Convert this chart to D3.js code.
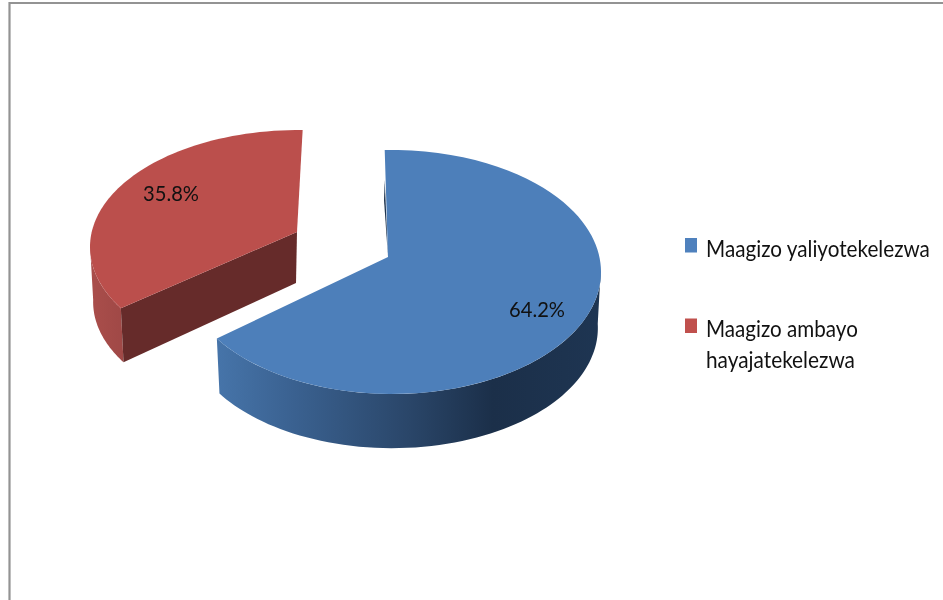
<!DOCTYPE html>
<html><head><meta charset="utf-8">
<script src="https://cdn.jsdelivr.net/npm/d3@7"></script>
<style>html,body{margin:0;padding:0;background:#fff}svg{display:block;filter:blur(0.35px)}text{font-family:Lato,"Open Sans",sans-serif;fill:#111}</style>
</head><body>
<svg id="c" width="943" height="600"></svg>
<script>
const categories = ["Maagizo yaliyotekelezwa", "Maagizo ambayo hayajatekelezwa"];
const values = [64.2, 35.8];
const valueLabels = ["64.2%", "35.8%"];
const legendLines = [["Maagizo yaliyotekelezwa"], ["Maagizo ambayo", "hayajatekelezwa"]];
const colors = ["#4d7fba", "#bb4f4c"];
const legendColors = ["#4f81bd", "#c0504d"];

const deg = Math.PI / 180;
// Projection of each exploded slice's flat disc onto the page
const geom = [
  {cx:392, cy:272, rx:209, ry:122, rot:-2, k:8, apex:[388,257], apexB:[388,310], depth:56, label:[537,317], face:"url(#wallBlue)", legendY:252, lineYs:[257], lineW:[224]},
  {cx:299, cy:247, rx:209, ry:117, rot:1, k:6.5, apex:[297,232], apexB:[296,283], depth:55, label:[171,201], face:"url(#wallRed)", legendY:332.5, lineYs:[337,368], lineW:[152,149]}
];
const shrink = 0.985;

const svg = d3.select("#c");
const defs = svg.append("defs");
function grad(id, x1, x2, stops){
  const g = defs.append("linearGradient").attr("id",id).attr("gradientUnits","userSpaceOnUse")
    .attr("x1",x1).attr("x2",x2).attr("y1",0).attr("y2",0);
  stops.forEach(s=>g.append("stop").attr("offset",s[0]).attr("stop-color",s[1]));
}
grad("wallBlue",218,600,[[0,"#4674a9"],[0.2,"#3a6190"],[0.5,"#2a4669"],[0.72,"#1b2f49"],[1,"#1e3552"]]);
grad("wallRed",90,125,[[0,"#aa4e4b"],[1,"#9f4846"]]);

// frame
svg.append("path").attr("d","M9.5,600V3H943").attr("fill","none").attr("stroke","#939393").attr("stroke-width",2.2);

const pie = d3.pie().sort(null).value(d=>d)(values);

function pt(g,a,lower){
  const w = a/deg + g.rot + g.k*Math.sin(2*a);
  const s = lower ? shrink : 1;
  const x = d3.scaleLinear().domain([-1,1]).range([g.cx-g.rx*s, g.cx+g.rx*s]);
  const y = d3.scaleLinear().domain([-1,1]).range([g.cy-g.ry*s, g.cy+g.ry*s]);
  return [x(Math.sin(w*deg)), y(-Math.cos(w*deg)) + (lower?g.depth:0)];
}
const line = d3.line();
function samples(a0,a1){ const n=80; return d3.range(n+1).map(i=>a0+(a1-a0)*i/n); }
// Text drawn tall and narrow: squeeze horizontally to the wanted width
function narrowText(x,y,size,width,str){
  const t = svg.append("text").attr("font-size",size).text(str);
  const sx = width / t.node().getComputedTextLength();
  t.attr("transform",`translate(${x},${y}) scale(${sx},1)`);
}

pie.forEach((d,i)=>{
  const g = geom[i];
  const lo = Math.max(d.startAngle, 90*deg), hi = Math.min(d.endAngle, 270*deg);
  const gr = svg.append("g");
  // outer wall
  if(hi>lo){
    const as = samples(lo,hi);
    gr.append("path").attr("fill",g.face)
      .attr("d",line(as.map(a=>pt(g,a,false)).concat(as.slice().reverse().map(a=>pt(g,a,true))))+"Z");
  }
  // cut faces
  if(i===1){
    gr.append("path").attr("fill","#662b2a")
      .attr("d",line([pt(g,d.startAngle,false),g.apex,g.apexB,pt(g,d.startAngle,true)])+"Z");
  } else {
    const e = pt(g,d.startAngle,false);
    gr.append("path").attr("fill","#1f3550")
      .attr("d",line([[e[0],e[1]+30],g.apex,[g.apex[0]-4,e[1]+50]])+"Z");
  }
  // top face
  gr.append("path").attr("fill",colors[i])
    .attr("d",line(samples(d.startAngle,d.endAngle).map(a=>pt(g,a,false)).concat([g.apex]))+"Z");
  // value label
  narrowText(g.label[0]-28,g.label[1],22,56,valueLabels[i]);
  // legend
  svg.append("rect").attr("x",685).attr("y",g.legendY-14).attr("width",12).attr("height",14.5).attr("fill",legendColors[i]);
  legendLines[i].forEach((t,j)=>narrowText(706,g.lineYs[j],23,g.lineW[j],t));
});
</script>
</body></html>
